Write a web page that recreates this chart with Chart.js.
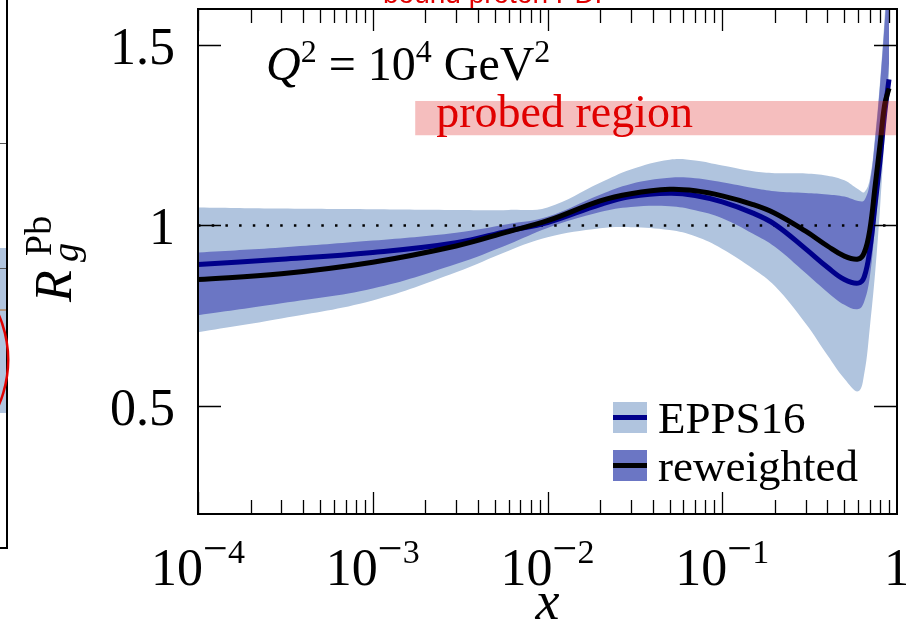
<!DOCTYPE html>
<html>
<head>
<meta charset="utf-8">
<script src="https://cdn.jsdelivr.net/npm/chart.js@4.4.1/dist/chart.umd.min.js"></script>
<style>
  html, body { margin: 0; padding: 0; background: #fff; }
  #wrap { width: 906px; height: 625px; }
</style>
</head>
<body>
<div id="wrap"><canvas id="rgChart" width="906" height="625"></canvas></div>
<script>
// gluon nuclear modification R_g^Pb at Q^2 = 10^4 GeV^2
const xPoints = [1e-4, 3e-4, 1e-3, 3e-3, 6e-3, 1e-2, 0.02, 0.03, 0.05, 0.07, 0.1, 0.15,
                 0.2, 0.3, 0.4, 0.5, 0.6, 0.65, 0.7, 0.75, 0.8, 0.85, 0.9];

const eppsUpper   = [1.050, 1.047, 1.045, 1.043, 1.043, 1.050, 1.118, 1.155, 1.182, 1.180, 1.166, 1.150,
                     1.145, 1.144, 1.138, 1.125, 1.100, 1.092, 1.130, 1.250, 1.400, 1.580, 1.800];
const eppsCentral = [0.892, 0.906, 0.925, 0.952, 0.985, 1.008, 1.058, 1.080, 1.089, 1.083, 1.065, 1.034,
                     1.003, 0.935, 0.884, 0.850, 0.840, 0.858, 0.935, 1.060, 1.180, 1.310, 1.405];
const eppsLower   = [0.704, 0.742, 0.792, 0.870, 0.930, 0.967, 0.992, 0.995, 0.987, 0.970, 0.935, 0.880,
                     0.832, 0.728, 0.640, 0.575, 0.540, 0.590, 0.720, 0.870, 1.050, 1.250, 1.420];

const rewUpper    = [0.925, 0.939, 0.958, 0.980, 1.004, 1.024, 1.085, 1.115, 1.132, 1.131, 1.120, 1.104,
                     1.095, 1.090, 1.086, 1.080, 1.068, 1.070, 1.120, 1.240, 1.390, 1.560, 1.740];
const rewCentral  = [0.850, 0.866, 0.898, 0.943, 0.983, 1.013, 1.068, 1.088, 1.100, 1.096, 1.082, 1.058,
                     1.034, 0.984, 0.943, 0.915, 0.907, 0.925, 0.990, 1.110, 1.225, 1.335, 1.380];
const rewLower    = [0.751, 0.784, 0.825, 0.893, 0.948, 0.993, 1.037, 1.051, 1.053, 1.042, 1.020, 0.977,
                     0.941, 0.868, 0.815, 0.780, 0.768, 0.790, 0.860, 1.000, 1.140, 1.300, 1.450];

const unityLevel = 1;
const probedX = [1.75e-3, 1];
const probedY = [1.25, 1.345];

const yTicks = [0.5, 1, 1.5];
const yTickLabels = ['0.5', '1', '1.5'];
const xMajorTicks = [1e-4, 1e-3, 1e-2, 1e-1, 1];
const xMajorExponents = ['4', '3', '2', '1', null];
const legendLabels = ['EPPS16', 'reweighted'];

const LIGHT = '#b0c4de';
const DARK = '#6b76c4';
const NAVY = '#00008b';
const serif = '"Liberation Serif", "Times New Roman", serif';
const SMOOTH = 0.4;

function pts(ys) {
    return xPoints.map((x, i) => ({ x: x, y: ys[i] }));
}

// draw a run of text pieces [text, font, dy] starting at x
function drawRun(ctx, pieces, x, y) {
    for (const [t, font, dy] of pieces) {
        ctx.font = font;
        ctx.fillText(t, x, y + dy);
        x += ctx.measureText(t).width;
    }
    return x;
}
function runWidth(ctx, pieces) {
    let w = 0;
    for (const [t, font] of pieces) { ctx.font = font; w += ctx.measureText(t).width; }
    return w;
}

const decorations = {
    id: 'decorations',
    beforeDraw(chart) {
        // edge of the neighbouring panel
        const ctx = chart.ctx;
        ctx.save();
        ctx.fillStyle = LIGHT;
        ctx.fillRect(0, 248, 7, 165);
        ctx.strokeStyle = '#555';
        ctx.lineWidth = 1;
        ctx.beginPath();
        ctx.moveTo(0, 143.5); ctx.lineTo(7, 143.5);
        ctx.moveTo(0, 268.5); ctx.lineTo(7, 268.5);
        ctx.stroke();
        ctx.strokeStyle = '#b5651d';
        ctx.beginPath(); ctx.moveTo(0, 310); ctx.lineTo(7, 310); ctx.stroke();
        ctx.strokeStyle = '#000';
        ctx.lineWidth = 2;
        ctx.beginPath();
        ctx.moveTo(7, 0); ctx.lineTo(7, 548); ctx.lineTo(0, 548);
        ctx.stroke();
        ctx.strokeStyle = '#e00000';
        ctx.lineWidth = 2.5;
        ctx.beginPath();
        ctx.ellipse(-60, 360, 68, 90, 0, -1.2, 1.2);
        ctx.stroke();
        ctx.fillStyle = '#e00000';
        ctx.font = '28px "Liberation Sans", Arial, sans-serif';
        ctx.fillText('bound proton PDF', 383, 3);
        ctx.restore();
    },
    afterDatasetsDraw(chart) {
        const { ctx, chartArea: a, scales: { x, y } } = chart;
        ctx.save();

        // probed region
        const rx0 = x.getPixelForValue(probedX[0]);
        const rx1 = x.getPixelForValue(probedX[1]);
        const ry0 = y.getPixelForValue(probedY[1]);
        const ry1 = y.getPixelForValue(probedY[0]);
        ctx.fillStyle = 'rgba(222, 40, 40, 0.3)';
        ctx.fillRect(rx0, ry0, rx1 - rx0, ry1 - ry0);
        ctx.fillStyle = '#e00000';
        ctx.font = '46px ' + serif;
        ctx.textBaseline = 'alphabetic';
        ctx.fillText('probed region', rx0 + 21, ry1 - 8);

        // frame
        ctx.strokeStyle = '#000';
        ctx.lineWidth = 2;
        ctx.strokeRect(a.left, a.top, a.right - a.left, a.bottom - a.top);

        // x ticks, top and bottom, pointing inward
        ctx.lineWidth = 1.3;
        ctx.beginPath();
        for (let d = -4; d < 0; d++) {
            for (let k = 1; k <= 9; k++) {
                const px = Math.round(x.getPixelForValue(k * Math.pow(10, d))) + 0.5;
                const len = k === 1 ? 22 : 14;
                ctx.moveTo(px, a.bottom); ctx.lineTo(px, a.bottom - len);
                ctx.moveTo(px, a.top); ctx.lineTo(px, a.top + len);
            }
        }
        // y ticks, left and right
        for (const v of yTicks) {
            const py = Math.round(y.getPixelForValue(v)) + 0.5;
            ctx.moveTo(a.left, py); ctx.lineTo(a.left + 23, py);
            ctx.moveTo(a.right, py); ctx.lineTo(a.right - 23, py);
        }
        ctx.stroke();

        ctx.fillStyle = '#000';
        // y tick labels
        ctx.font = '52px ' + serif;
        ctx.textAlign = 'right';
        yTicks.forEach((v, i) => {
            ctx.fillText(yTickLabels[i], a.left - 23, y.getPixelForValue(v) + 19);
        });

        // x tick labels 10^-n
        ctx.textAlign = 'left';
        xMajorTicks.forEach((v, i) => {
            const cx = x.getPixelForValue(v);
            const e = xMajorExponents[i];
            const pieces = e === null
                ? [['1', '52px ' + serif, 0]]
                : [['10', '52px ' + serif, 0], ['\u2212', '44px ' + serif, -22], [e, '34px ' + serif, -22]];
            const w = runWidth(ctx, pieces);
            drawRun(ctx, pieces, cx - w / 2, 585);
        });

        // axis titles
        ctx.font = 'italic 54px ' + serif;
        ctx.textAlign = 'center';
        ctx.fillText('x', x.getPixelForValue(1e-2), 619);

        ctx.save();
        ctx.translate(71, 302);
        ctx.rotate(-Math.PI / 2);
        ctx.textAlign = 'left';
        ctx.font = 'italic 52px ' + serif;
        ctx.fillText('R', 0, 0);
        ctx.font = 'italic 38px ' + serif;
        ctx.fillText('g', 40, 7);
        ctx.font = '38px ' + serif;
        ctx.fillText('Pb', 46, -20);
        ctx.restore();

        // Q^2 annotation
        ctx.textAlign = 'left';
        drawRun(ctx, [
            ['Q', 'italic 48px ' + serif, 0],
            ['2', '32px ' + serif, -18],
            [' = 10', '48px ' + serif, 0],
            ['4', '32px ' + serif, -18],
            [' GeV', '48px ' + serif, 0],
            ['2', '32px ' + serif, -18]
        ], 266, 80);

        // legend: band swatch with central line
        const swatches = [[LIGHT, NAVY], [DARK, '#000']];
        legendLabels.forEach((label, i) => {
            const top = 402 + i * 48;
            ctx.fillStyle = swatches[i][0];
            ctx.fillRect(613, top, 34, 31);
            ctx.fillStyle = swatches[i][1];
            ctx.fillRect(613, top + 13, 34, 5);
            ctx.fillStyle = '#000';
            ctx.font = '45px ' + serif;
            ctx.fillText(label, 658, top + 31);
        });

        ctx.restore();
    }
};

const band = (data, color, fill, order) => ({
    data: pts(data),
    backgroundColor: color,
    borderWidth: 0,
    borderColor: 'rgba(0,0,0,0)',
    fill: fill,
    pointRadius: 0,
    tension: SMOOTH,
    order: order
});

const curve = (label, data, color, order) => ({
    label: label,
    data: pts(data),
    borderColor: color,
    borderWidth: 5,
    pointRadius: 0,
    fill: false,
    tension: SMOOTH,
    order: order
});

new Chart(document.getElementById('rgChart'), {
    type: 'line',
    data: {
        datasets: [
            band(eppsUpper, LIGHT, '+1', 5),
            band(eppsLower, LIGHT, false, 5),
            band(rewUpper, DARK, '+1', 4),
            band(rewLower, DARK, false, 4),
            {
                data: [{ x: 1e-4, y: unityLevel }, { x: 1, y: unityLevel }],
                borderColor: '#000',
                borderWidth: 2.5,
                borderDash: [2.5, 11.2],
                pointRadius: 0,
                fill: false,
                order: 3
            },
            curve(legendLabels[0], eppsCentral, NAVY, 2),
            curve(legendLabels[1], rewCentral, '#000', 1)
        ]
    },
    options: {
        responsive: false,
        animation: false,
        devicePixelRatio: 1,
        events: [],
        layout: { padding: { left: 198, right: 9, top: 9, bottom: 111 } },
        elements: { line: { capBezierPoints: false } },
        scales: {
            x: { type: 'logarithmic', min: 1e-4, max: 1, display: false },
            y: { type: 'linear', min: 0.2, max: 1.6, display: false }
        },
        plugins: {
            legend: { display: false },
            tooltip: { enabled: false }
        }
    },
    plugins: [decorations]
});
</script>
</body>
</html>
